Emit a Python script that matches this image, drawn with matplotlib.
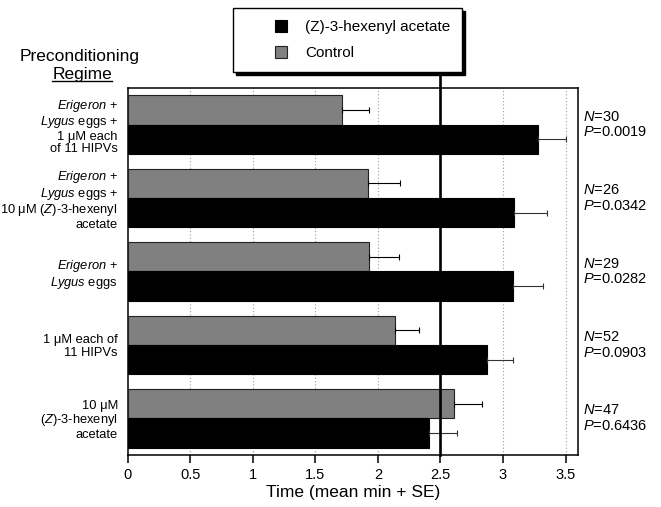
import matplotlib as mpl
import matplotlib.pyplot as plt
import matplotlib.patches as mpatches
import matplotlib.ticker as ticker
from matplotlib.legend_handler import HandlerPatch
from matplotlib.lines import Line2D

OUTPUT_FILE = 'out.png'

REGIMES = [
    '$\\mathit{Erigeron}$ +\n$\\mathit{Lygus}$ eggs +\n1 \u03bcM each\nof 11 HIPVs',
    '$\\mathit{Erigeron}$ +\n$\\mathit{Lygus}$ eggs +\n10 \u03bcM $\\mathit{(Z)}$-3-hexenyl\nacetate',
    '$\\mathit{Erigeron}$ +\n$\\mathit{Lygus}$ eggs',
    '1 \u03bcM each of\n11 HIPVs',
    '10 \u03bcM\n$\\mathit{(Z)}$-3-hexenyl\nacetate',
]
control_mean = [1.71, 1.92, 1.93, 2.14, 2.61]
control_se = [0.22, 0.26, 0.24, 0.19, 0.22]
hexenyl_mean = [3.28, 3.09, 3.08, 2.87, 2.41]
hexenyl_se = [0.22, 0.26, 0.24, 0.21, 0.22]
n_values = [30, 26, 29, 52, 47]
p_values = ['0.0019', '0.0342', '0.0282', '0.0903', '0.6436']

mpl.rcParams['font.family'] = 'Liberation Sans'
mpl.rcParams['mathtext.fontset'] = 'custom'
mpl.rcParams['mathtext.rm'] = 'Liberation Sans'
mpl.rcParams['mathtext.it'] = 'Liberation Sans:italic'


def square_handle(legend, orig_handle, xdescent, ydescent, width, height, fontsize):
    # small square sitting at the right end of a wide handle box
    size = 8.6
    return mpatches.Rectangle((width - size - xdescent - 2, (height - size) / 2 - ydescent),
                              size, size)


def main() -> None:
    fig = plt.figure(figsize=(6.61, 5.07), dpi=100)
    ax = fig.add_axes([0.193, 0.1026, 0.6815, 0.7239])

    n = len(REGIMES)
    centers = [n - 1 - i for i in range(n)]
    bar_h = 0.4

    gray = ax.barh([c + bar_h / 2 for c in centers], control_mean, height=bar_h,
                   color='#808080', edgecolor='#222222', linewidth=0.8,
                   label='Control', zorder=3)
    black = ax.barh([c - bar_h / 2 for c in centers], hexenyl_mean, height=bar_h,
                    color='black', edgecolor='black', linewidth=0.8,
                    label='(Z)-3-hexenyl acetate', zorder=3)
    ax.errorbar(control_mean, [c + bar_h / 2 for c in centers],
                xerr=[[0] * n, control_se], fmt='none', ecolor='black',
                elinewidth=0.8, capsize=2.5, capthick=0.8, zorder=4)
    ax.errorbar(hexenyl_mean, [c - bar_h / 2 for c in centers],
                xerr=[[0] * n, hexenyl_se], fmt='none', ecolor='#333333',
                elinewidth=0.8, capsize=2.5, capthick=0.8, zorder=4)

    ax.axvline(2.5, ymin=0, ymax=1.032, color='black', linewidth=1.9,
               clip_on=False, zorder=5)
    for x in [0.5, 1, 1.5, 2, 3, 3.5]:
        ax.axvline(x, color='#9a9a9a', linestyle=(0, (1, 2)), linewidth=0.8, zorder=1)

    ax.set_xlim(0, 3.6)
    ax.set_ylim(-0.5, n - 0.5)
    ax.xaxis.set_major_locator(ticker.MultipleLocator(0.5))
    ax.xaxis.set_major_formatter(ticker.FuncFormatter(lambda v, p: f'{v:g}'))
    ax.tick_params(axis='x', direction='out', length=6, width=1.1, pad=3.5,
                   labelsize=10.5)
    ax.set_yticks(centers, REGIMES)
    ax.tick_params(axis='y', length=0, pad=7, labelsize=9.3)
    for lbl in ax.get_yticklabels():
        lbl.set_linespacing(1.05)
    for spine in ax.spines.values():
        spine.set_linewidth(1.1)
    ax.set_xlabel('Time (mean min + SE)', fontsize=12.5, labelpad=2)

    for c, nv, pv in zip(centers, n_values, p_values):
        ax.text(1.011, c, f'$\\mathit{{N}}$={nv}\n$\\mathit{{P}}$={pv}',
                transform=ax.get_yaxis_transform(), ha='left', va='center',
                fontsize=10.5, linespacing=1.15)

    fig.text(80 / 661, 1 - 56 / 507, 'Preconditioning', ha='center', va='center',
             fontsize=12.5)
    regime = fig.text(82 / 661, 1 - 74 / 507, 'Regime', ha='center', va='center',
                      fontsize=12.5)
    fig.canvas.draw()
    bb = regime.get_window_extent()
    fig.add_artist(Line2D([bb.x0, bb.x1], [bb.y0 + 1, bb.y0 + 1], color='black',
                          linewidth=1.0, transform=None))

    fig.legend(handles=[black.patches[0], gray.patches[0]],
               labels=['(Z)-3-hexenyl acetate', 'Control'], loc='upper left',
               bbox_to_anchor=(233 / 661, 1 - 8 / 507), borderaxespad=0,
               fontsize=11, handlelength=2.9, handleheight=0.8,
               handletextpad=1.0, labelspacing=0.75, borderpad=0.8,
               fancybox=False, framealpha=1, edgecolor='black',
               shadow={'color': 'black', 'alpha': 1},
               handler_map={mpatches.Rectangle: HandlerPatch(patch_func=square_handle)})

    plt.savefig(OUTPUT_FILE, dpi=100)
    plt.close()


if __name__ == '__main__':
    main()
